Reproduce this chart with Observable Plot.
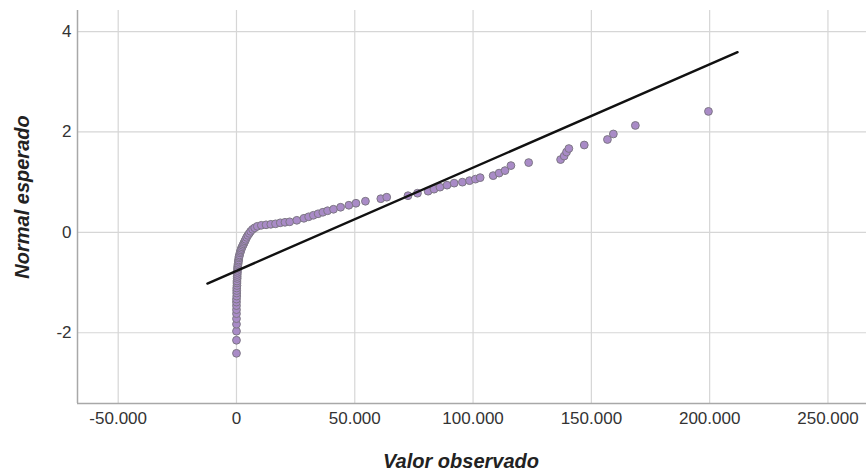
<!DOCTYPE html>
<html>
<head>
<meta charset="utf-8">
<script src="https://cdn.jsdelivr.net/npm/d3@7"></script>
<script src="https://cdn.jsdelivr.net/npm/@observablehq/plot@0.6"></script>
<style>
  html, body { margin: 0; padding: 0; background: #fff; }
  #chart { width: 866px; height: 475px; overflow: hidden; }
</style>
</head>
<body>
<div id="chart"></div>
<script>
const observed = [
  0, 0, 0, 0, 0, 0, 0, 0, 0, 0, 100, 100, 100, 100, 200, 200, 200, 300, 300, 300,
  400, 400, 500, 500, 600, 700, 800, 900, 1000, 1100, 1300, 1500, 1700, 1900, 2100, 2400,
  2700, 3000, 3300, 3600, 3900, 4300, 4800, 5400, 6000, 6800, 7700, 8800,
  10500, 12500, 14500, 16500, 18500, 20500, 22500, 25500, 28500, 30500, 32500, 34500,
  36500, 38500, 41000, 44000, 47500, 50500, 54500, 61000, 63500, 72500, 76500,
  81000, 83500, 86000, 89000, 92000, 95500, 98500, 101000, 103000, 108500, 111000,
  113500, 116000, 123500, 137000, 138500, 139500, 140500, 147000, 156800, 159300,
  168600, 199500
];
const expected = [
  -2.41, -2.15, -1.97, -1.83, -1.72, -1.62, -1.54, -1.46, -1.39, -1.33, -1.27, -1.21, -1.16, -1.11, -1.06, -1.01, -0.97, -0.92, -0.88, -0.84,
  -0.80, -0.76, -0.72, -0.69, -0.65, -0.62, -0.58, -0.55, -0.51, -0.48, -0.45, -0.41, -0.38, -0.35, -0.32, -0.29,
  -0.26, -0.23, -0.20, -0.17, -0.14, -0.10, -0.06, -0.02, 0.02, 0.06, 0.09, 0.12,
  0.14, 0.15, 0.16, 0.17, 0.19, 0.20, 0.21, 0.24, 0.28, 0.31, 0.34, 0.37,
  0.40, 0.43, 0.46, 0.50, 0.54, 0.58, 0.62, 0.67, 0.70, 0.73, 0.78,
  0.82, 0.86, 0.90, 0.94, 0.98, 1.00, 1.03, 1.06, 1.09, 1.13, 1.18,
  1.23, 1.33, 1.39, 1.45, 1.52, 1.60, 1.67, 1.74, 1.85, 1.96,
  2.13, 2.41
];
// Reference line endpoints
const lineX = [-12300, 211800];
const lineY = [-1.02, 3.59];

const xTicks = [-50000, 0, 50000, 100000, 150000, 200000, 250000];
const yTicks = [-2, 0, 2, 4];

const points = observed.map((v, i) => ({x: v, y: expected[i]}));
const refLine = lineX.map((v, i) => ({x: v, y: lineY[i]}));

const locale = d3.formatLocale({decimal: ",", thousands: ".", grouping: [3], currency: ["", ""], minus: "-"});
const fmt = locale.format(",");

const W = 866, H = 475;
const plot = Plot.plot({
  width: W,
  height: H,
  marginLeft: 77,
  marginRight: 0,
  marginTop: 10,
  marginBottom: 72,
  style: {fontFamily: "'Liberation Sans', Arial, sans-serif", fontSize: "17px", color: "#333", background: "#fff"},
  x: {domain: [-67200, 266300], ticks: xTicks, tickFormat: fmt, label: null},
  y: {domain: [-3.41, 4.42], ticks: yTicks, tickFormat: d => fmt(d), label: null},
  marks: [
    Plot.gridX(xTicks, {stroke: "#d6d6d6", strokeOpacity: 1, strokeWidth: 1.2}),
    Plot.gridY(yTicks, {stroke: "#d6d6d6", strokeOpacity: 1, strokeWidth: 1.2}),
    Plot.axisX(xTicks, {tickSize: 0, tickPadding: 8, tickFormat: fmt, fontSize: 17, fill: "#333", label: null}),
    Plot.axisY(yTicks, {tickSize: 0, tickPadding: 6, tickFormat: d => fmt(d), fontSize: 17, fill: "#333", label: null}),
    Plot.ruleX([-67200], {stroke: "#a8a8a8", strokeWidth: 1.5}),
    Plot.ruleY([-3.41], {stroke: "#a8a8a8", strokeWidth: 1.5}),
    Plot.dot(points, {x: "x", y: "y", r: 3.9, fill: "#a98bc7", stroke: "#7d7784", strokeWidth: 1}),
    Plot.line(refLine, {x: "x", y: "y", stroke: "#111", strokeWidth: 2.4})
  ]
});
document.getElementById("chart").appendChild(plot);

const svg = d3.select(plot);
svg.append("text")
  .attr("x", 461).attr("y", 468)
  .attr("text-anchor", "middle")
  .style("font-family", "'Liberation Sans', Arial, sans-serif")
  .style("font-size", "20px").style("font-weight", "bold").style("font-style", "italic")
  .attr("fill", "#222")
  .text("Valor observado");
svg.append("text")
  .attr("transform", "translate(29,197) rotate(-90)")
  .attr("text-anchor", "middle")
  .style("font-family", "'Liberation Sans', Arial, sans-serif")
  .style("font-size", "20px").style("font-weight", "bold").style("font-style", "italic")
  .attr("fill", "#222")
  .text("Normal esperado");
</script>
</body>
</html>
